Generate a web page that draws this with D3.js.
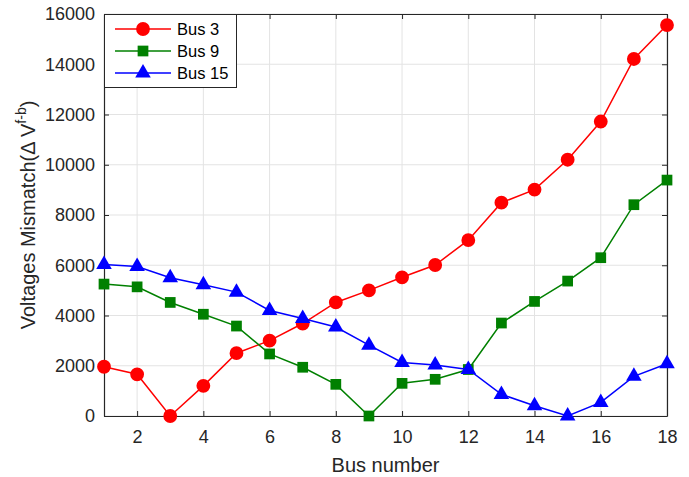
<!DOCTYPE html>
<html><head><meta charset="utf-8">
<script src="https://cdn.jsdelivr.net/npm/d3@7"></script>
<style>body{margin:0;background:#fff}svg{font-family:"Liberation Sans",Arial,sans-serif}</style>
</head><body><svg id="c" width="689" height="477"></svg>
<script>
const buses = [1,2,3,4,5,6,7,8,9,10,11,12,13,14,15,16,17,18];
const bus3 = [1960,1660,0,1200,2500,3000,3680,4520,5000,5520,6010,7000,8490,9010,10200,11720,14210,15560];
const bus9 = [5250,5140,4520,4050,3580,2470,1940,1260,0,1300,1460,1850,3700,4560,5370,6300,8410,9390];
const bus15 = [6030,5950,5500,5220,4930,4200,3880,3540,2820,2130,2030,1850,860,410,0,540,1580,2080];
const xTicks = [2,4,6,8,10,12,14,16,18];
const yTicks = [0,2000,4000,6000,8000,10000,12000,14000,16000];
const seriesNames = ["Bus 3","Bus 9","Bus 15"];
const colors = ["#ff0000","#008000","#0000ff"];
const shapes = [d3.symbolCircle, d3.symbolSquare, d3.symbolTriangle];
const sizes = [150, 115, 105];

const svg = d3.select("#c");
const L=104, R=667, T=14, B=416;
const x = d3.scaleLinear().domain([1,18]).range([L,R]);
const y = d3.scaleLinear().domain([0,16000]).range([B,T]);
const ax = "#262626";

// grid
svg.append("g").selectAll("line").data(xTicks).join("line")
  .attr("x1",d=>x(d)).attr("x2",d=>x(d)).attr("y1",T).attr("y2",B)
  .attr("stroke","#e3e3e3").attr("stroke-width",1);
svg.append("g").selectAll("line").data(yTicks).join("line")
  .attr("y1",d=>y(d)).attr("y2",d=>y(d)).attr("x1",L).attr("x2",R)
  .attr("stroke","#e3e3e3").attr("stroke-width",1);

// axes
const xa = svg.append("g").attr("transform",`translate(0,${B})`)
  .call(d3.axisBottom(x).tickValues(xTicks).tickSizeInner(-5).tickSizeOuter(0).tickPadding(14));
const ya = svg.append("g").attr("transform",`translate(${L},0)`)
  .call(d3.axisLeft(y).tickValues(yTicks).tickSizeInner(-5).tickSizeOuter(0).tickPadding(9).tickFormat(d3.format("d")));
const xt = svg.append("g").attr("transform",`translate(0,${T})`)
  .call(d3.axisTop(x).tickValues(xTicks).tickSizeInner(-5).tickSizeOuter(0).tickFormat(""));
const yr = svg.append("g").attr("transform",`translate(${R},0)`)
  .call(d3.axisRight(y).tickValues(yTicks).tickSizeInner(-5).tickSizeOuter(0).tickFormat(""));
[xa,ya,xt,yr].forEach(g=>{
  g.selectAll("path").attr("stroke",ax).attr("stroke-width",1.2);
  g.selectAll("line").attr("stroke",ax);
  g.selectAll("text").attr("fill",ax).style("font-size","18px").style("font-family","'Liberation Sans',Arial,sans-serif");
});

// series
const all = [bus3,bus9,bus15];
all.forEach((vals,i)=>{
  const data = buses.map((b,j)=>[b,vals[j]]);
  svg.append("path").datum(data)
    .attr("fill","none").attr("stroke",colors[i]).attr("stroke-width",1.5)
    .attr("d",d3.line().x(d=>x(d[0])).y(d=>y(d[1])));
  svg.append("g").selectAll("path").data(data).join("path")
    .attr("transform",d=>`translate(${x(d[0])},${y(d[1])})`)
    .attr("d",d3.symbol().type(shapes[i]).size(sizes[i]))
    .attr("fill",colors[i]);
});

// legend
const lg = svg.append("g");
lg.append("rect").attr("x",L+0.5).attr("y",T+0.5).attr("width",132).attr("height",73)
  .attr("fill","#fff").attr("stroke",ax).attr("stroke-width",1);
seriesNames.forEach((n,i)=>{
  const yy = 29 + i*22;
  lg.append("line").attr("x1",115).attr("x2",171).attr("y1",yy).attr("y2",yy)
    .attr("stroke",colors[i]).attr("stroke-width",1.5);
  lg.append("path").attr("transform",`translate(143,${yy})`)
    .attr("d",d3.symbol().type(shapes[i]).size(sizes[i])).attr("fill",colors[i]);
  lg.append("text").attr("x",177).attr("y",yy+6).text(n)
    .attr("fill","#000").style("font-size","16.5px");
});

// labels
svg.append("text").attr("x",(L+R)/2).attr("y",472).attr("text-anchor","middle")
  .attr("fill",ax).style("font-size","20px").text("Bus number");
const yl = svg.append("text").attr("transform",`translate(35,${(T+B)/2}) rotate(-90)`)
  .attr("text-anchor","middle").attr("fill",ax).style("font-size","20px");
yl.append("tspan").text("Voltages Mismatch(Δ V");
yl.append("tspan").attr("dy",-9).style("font-size","14px").text("f-b");
yl.append("tspan").attr("dy",9).text(")");
</script></body></html>
